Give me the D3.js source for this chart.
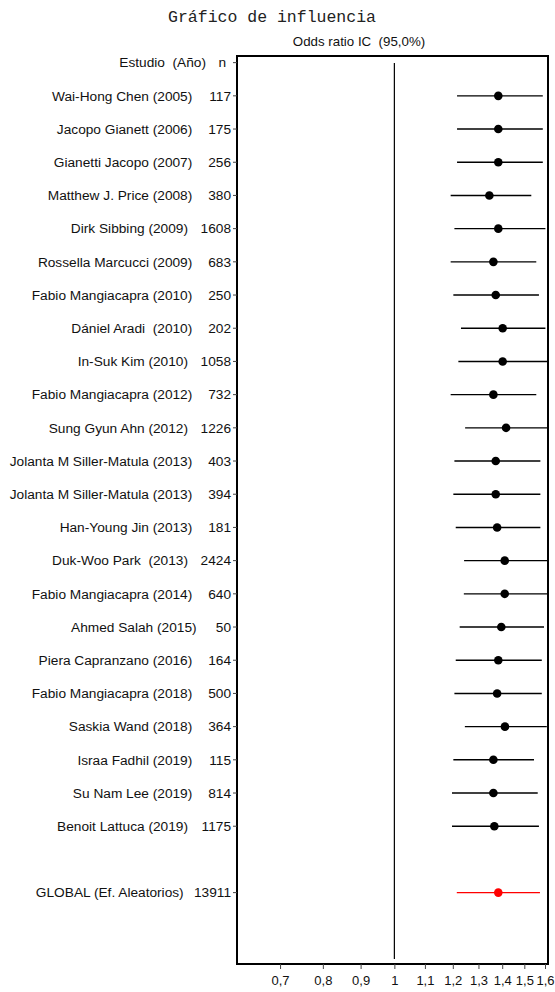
<!DOCTYPE html>
<html>
<head>
<meta charset="utf-8">
<script src="https://cdn.jsdelivr.net/npm/d3@7"></script>
<style>
  html, body { margin: 0; padding: 0; background: #fff; }
  svg { display: block; }
  text { white-space: pre; }
</style>
</head>
<body>
<svg id="chart" width="555" height="992"></svg>
<script>
// Studies (author, year) and sample sizes
const studies = [
  "Wai-Hong Chen (2005)", "Jacopo Gianett (2006)", "Gianetti Jacopo (2007)",
  "Matthew J. Price (2008)", "Dirk Sibbing (2009)", "Rossella Marcucci (2009)",
  "Fabio Mangiacapra (2010)", "Dániel Aradi  (2010)", "In-Suk Kim (2010)",
  "Fabio Mangiacapra (2012)", "Sung Gyun Ahn (2012)", "Jolanta M Siller-Matula (2013)",
  "Jolanta M Siller-Matula (2013)", "Han-Young Jin (2013)", "Duk-Woo Park  (2013)",
  "Fabio Mangiacapra (2014)", "Ahmed Salah (2015)", "Piera Capranzano (2016)",
  "Fabio Mangiacapra (2018)", "Saskia Wand (2018)", "Israa Fadhil (2019)",
  "Su Nam Lee (2019)", "Benoit Lattuca (2019)"
];
const sampleSizes = [117, 175, 256, 380, 1608, 683, 250, 202, 1058, 732, 1226, 403,
  394, 181, 2424, 640, 50, 164, 500, 364, 115, 814, 1175];

// Odds ratio with 95% CI when each study is left out
const oddsRatio = [1.383, 1.383, 1.383, 1.345, 1.383, 1.362, 1.372, 1.402, 1.402,
  1.362, 1.417, 1.372, 1.372, 1.378, 1.411, 1.411, 1.396, 1.383, 1.378, 1.412,
  1.362, 1.362, 1.366];
const ciLower = [1.216, 1.216, 1.216, 1.192, 1.206, 1.192, 1.202, 1.231, 1.221,
  1.192, 1.247, 1.206, 1.202, 1.211, 1.243, 1.242, 1.226, 1.211, 1.206, 1.246,
  1.202, 1.197, 1.197];
const ciUpper = [1.589, 1.589, 1.589, 1.533, 1.602, 1.557, 1.570, 1.602, 1.614,
  1.557, 1.630, 1.577, 1.577, 1.577, 1.630, 1.614, 1.595, 1.584, 1.584, 1.609,
  1.546, 1.564, 1.570];

// Pooled random-effects estimate
const globalLabel = "GLOBAL (Ef. Aleatorios)";
const globalN = 13911;
const globalOR = 1.383, globalLower = 1.215, globalUpper = 1.575;

const xTicks = [0.7, 0.8, 0.9, 1, 1.1, 1.2, 1.3, 1.4, 1.5, 1.6];

const svg = d3.select("#chart");
const box = { left: 237, right: 548, top: 56, bottom: 964 };

const x = d3.scaleLog().domain([0.612, 1.615]).range([box.left, box.right]);
// row 0 = header, rows 1..23 = studies, row 25 = global
const y = d3.scaleLinear().domain([-0.2, 27.15]).range([box.top, box.bottom]);

const rows = studies.map((s, i) => ({
  name: s, n: sampleSizes[i], or: oddsRatio[i], lo: ciLower[i], hi: ciUpper[i], row: i + 1, color: "#000"
}));
rows.push({ name: globalLabel, n: globalN, or: globalOR, lo: globalLower, hi: globalUpper, row: 25, color: "#ff0000" });

const font = "'Liberation Sans', Arial, sans-serif";
const labelSize = 13.7;

// Title
svg.append("text")
  .attr("x", 272).attr("y", 22)
  .attr("text-anchor", "middle")
  .attr("font-family", "'Liberation Mono', 'Courier New', monospace")
  .attr("font-size", 16.5)
  .attr("fill", "#222")
  .text("Gráfico de influencia");

svg.append("text")
  .attr("x", 359).attr("y", 46)
  .attr("text-anchor", "middle")
  .attr("font-family", font)
  .attr("font-size", 13.3)
  .attr("fill", "#111")
  .text("Odds ratio IC  (95,0%)");

// Clip region for the interval lines
svg.append("clipPath").attr("id", "plotClip")
  .append("rect")
  .attr("x", box.left).attr("y", box.top)
  .attr("width", box.right - box.left).attr("height", box.bottom - box.top);

// Reference line at OR = 1
svg.append("line")
  .attr("x1", x(1)).attr("x2", x(1))
  .attr("y1", box.top + 7).attr("y2", box.bottom - 5)
  .attr("stroke", "#000").attr("stroke-width", 1.2);

const plot = svg.append("g").attr("clip-path", "url(#plotClip)");

plot.selectAll("line.ci").data(rows).join("line")
  .attr("class", "ci")
  .attr("x1", d => x(d.lo)).attr("x2", d => x(d.hi))
  .attr("y1", d => y(d.row)).attr("y2", d => y(d.row))
  .attr("stroke", d => d.color).attr("stroke-width", 1.4);

plot.selectAll("circle.pt").data(rows).join("circle")
  .attr("class", "pt")
  .attr("cx", d => x(d.or)).attr("cy", d => y(d.row))
  .attr("r", 4.3)
  .attr("fill", d => d.color);

// Plot frame
svg.append("rect")
  .attr("x", box.left).attr("y", box.top)
  .attr("width", box.right - box.left).attr("height", box.bottom - box.top)
  .attr("fill", "none").attr("stroke", "#000").attr("stroke-width", 2);

// Bottom axis
const xAxis = d3.axisBottom(x)
  .tickValues(xTicks)
  .tickFormat(d => String(d).replace(".", ","))
  .tickSize(5)
  .tickPadding(7);
const gx = svg.append("g").attr("transform", `translate(0,${box.bottom})`).call(xAxis);
gx.select(".domain").remove();
gx.selectAll("text").attr("font-family", font).attr("font-size", 13).attr("fill", "#111");
gx.selectAll("line").attr("stroke", "#444");

// Left labels: study name and sample size, with small ticks
const labels = svg.append("g");
const digitShift = 4.3;
labels.selectAll("text.name").data(rows).join("text")
  .attr("class", "name")
  .attr("x", d => 192.3 + digitShift * (3 - String(d.n).length))
  .attr("y", d => y(d.row))
  .attr("dy", "0.35em")
  .attr("text-anchor", "end")
  .attr("font-family", font).attr("font-size", labelSize).attr("fill", "#111")
  .text(d => d.name);
labels.selectAll("text.n").data(rows).join("text")
  .attr("class", "n")
  .attr("x", 231)
  .attr("y", d => y(d.row))
  .attr("dy", "0.35em")
  .attr("text-anchor", "end")
  .attr("font-family", font).attr("font-size", labelSize).attr("fill", "#111")
  .text(d => d.n);

// Header row
labels.append("text")
  .attr("x", 206).attr("y", y(0)).attr("dy", "0.35em")
  .attr("text-anchor", "end")
  .attr("font-family", font).attr("font-size", labelSize).attr("fill", "#111")
  .text("Estudio  (Año)");
labels.append("text")
  .attr("x", 226).attr("y", y(0)).attr("dy", "0.35em")
  .attr("text-anchor", "end")
  .attr("font-family", font).attr("font-size", labelSize).attr("fill", "#111")
  .text("n");

const tickRows = [0].concat(rows.map(d => d.row));
labels.selectAll("line.yt").data(tickRows).join("line")
  .attr("class", "yt")
  .attr("x1", box.left - 4).attr("x2", box.left)
  .attr("y1", d => y(d)).attr("y2", d => y(d))
  .attr("stroke", "#444").attr("stroke-width", 1);
</script>
</body>
</html>
